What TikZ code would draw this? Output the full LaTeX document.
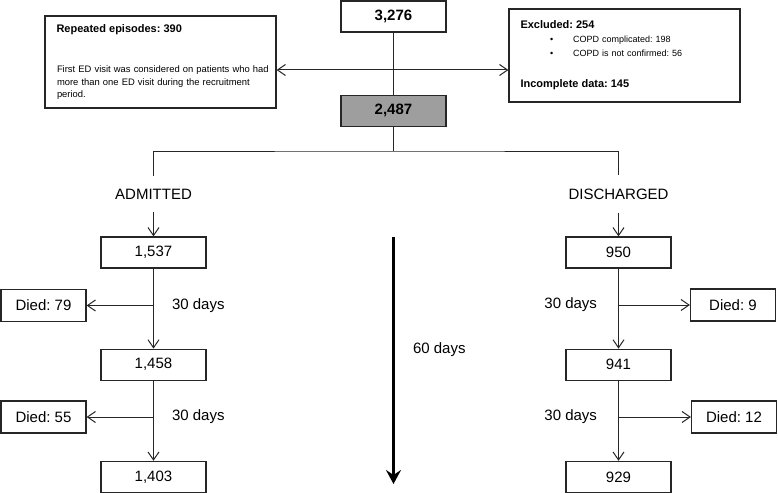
\documentclass[tikz,border=0pt]{standalone}
\usepackage{fontspec}
\setmainfont{Liberation Sans}
\usetikzlibrary{positioning, arrows.meta}
\frenchspacing

\begin{document}
\begin{tikzpicture}[
        x=1pt, y=-1pt,
        node distance=80pt,
        numbox/.style={draw=black!85, line width=1.2pt, minimum width=105pt, minimum height=31pt, inner sep=0pt, align=center, font=\fontsize{15}{18}\selectfont},
        diedbox/.style={draw=black!85, line width=1.2pt, minimum width=85pt, minimum height=32pt, inner sep=0pt, align=center, font=\fontsize{15}{18}\selectfont},
        sidebox/.style={draw=black!85, line width=1.2pt, text width=227pt, inner xsep=2pt, align=left},
        group/.style={inner xsep=2pt, inner ysep=13pt, font=\fontsize{15}{18}\selectfont},
        days/.style={inner sep=2pt, font=\fontsize{15}{18}\selectfont},
        arrow/.style={-{Straight Barb[length=8pt, width=11pt]}, line width=1pt, draw=black!85},
        dbl_arrow/.style={{Straight Barb[length=8pt, width=11pt]}-{Straight Barb[length=8pt, width=11pt]}, line width=1pt, draw=black!85},
        link/.style={line width=1pt, draw=black!85},
        timeline/.style={-{Stealth[length=14pt, width=15pt, inset=5pt]}, line width=3pt}
    ]
    \useasboundingbox (0,0) rectangle (778,492);

    \node[numbox, font=\fontsize{15}{18}\selectfont\bfseries] (total) at (393.5,16.5) {3,276};
    \node[numbox, fill=black!38, font=\fontsize{15}{18}\selectfont\bfseries, below=62pt of total] (included) {2,487};

    \node[sidebox, minimum height=92pt, font=\fontsize{9.4}{12.5}\selectfont] (repeated) at (160.5,62)
        {\hspace*{9.5pt}{\fontsize{11}{12.5}\selectfont\bfseries Repeated episodes: 390}\\[28pt]
         \hspace*{10pt}First ED visit was considered on patients who had\\
         \hspace*{10pt}more than one ED visit during the recruitment\\
         \hspace*{10pt}period.};
    \node[sidebox, minimum height=93pt, font=\fontsize{9}{14}\selectfont] (excluded) at (624.5,55.5)
        {\hspace*{9.5pt}{\fontsize{11}{14}\selectfont\bfseries Excluded: 254}\\
         \hspace*{39pt}\textbullet\hspace{20pt}COPD complicated: 198\\
         \hspace*{39pt}\textbullet\hspace{20pt}COPD is not confirmed: 56\\[17pt]
         \hspace*{9.5pt}{\fontsize{11}{14}\selectfont\bfseries Incomplete data: 145}};

    \coordinate (split) at (393.5,70);
    \coordinate (fork) at (393.5,151);

    \draw[link] (total) -- (included);
    \draw[dbl_arrow] (repeated.east |- split) -- (excluded.west |- split);
    \draw[link] (included) -- (fork);

    % two branches
    \node[group] (admitted) at (153.5,194) {ADMITTED};
    \node[group] (discharged) at (618.5,194) {DISCHARGED};
    \draw[link] (admitted.north) |- (fork) -| (discharged.north);

    \node[numbox] (adm0) at (153.5,252.5) {1,537};
    \node[numbox, below=of adm0] (adm30) {1,458};
    \node[numbox, below=of adm30] (adm60) {1,403};

    \node[numbox] (dis0) at (618.5,252.5) {950};
    \node[numbox, below=of dis0] (dis30) {941};
    \node[numbox, below=of dis30] (dis60) {929};

    \node[diedbox] (admdied1) at (43.5,305.5) {Died: 79};
    \node[diedbox] (admdied2) at (43.5,417) {Died: 55};
    \node[diedbox] (disdied1) at (733,305) {Died: 9};
    \node[diedbox] (disdied2) at (734,417) {Died: 12};

    \draw[arrow] (admitted) -- (adm0);
    \draw[arrow] (adm0) -- (adm30);
    \draw[arrow] (adm30) -- (adm60);
    \draw[arrow] (discharged) -- (dis0);
    \draw[arrow] (dis0) -- (dis30);
    \draw[arrow] (dis30) -- (dis60);

    \draw[arrow] (adm0.south |- admdied1) -- node[days, pos=0, right=16pt] (admlbl1) {30 days} (admdied1.east);
    \draw[arrow] (adm30.south |- admdied2) -- node[days, pos=0, right=16pt] (admlbl2) {30 days} (admdied2.east);
    \draw[arrow] (dis0.south |- disdied1) -- node[days, pos=0, left=19pt] (dislbl1) {30 days} (disdied1.west);
    \draw[arrow] (dis30.south |- disdied2) -- node[days, pos=0, left=19pt] (dislbl2) {30 days} (disdied2.west);

    % time axis
    \coordinate (tstart) at (393.5,237);
    \coordinate (tend) at (393.5,484);
    \draw[timeline] (tstart) -- node[days, pos=0.457, right=16pt] (tlbl) {60 days} (tend);

\end{tikzpicture}
\end{document}
